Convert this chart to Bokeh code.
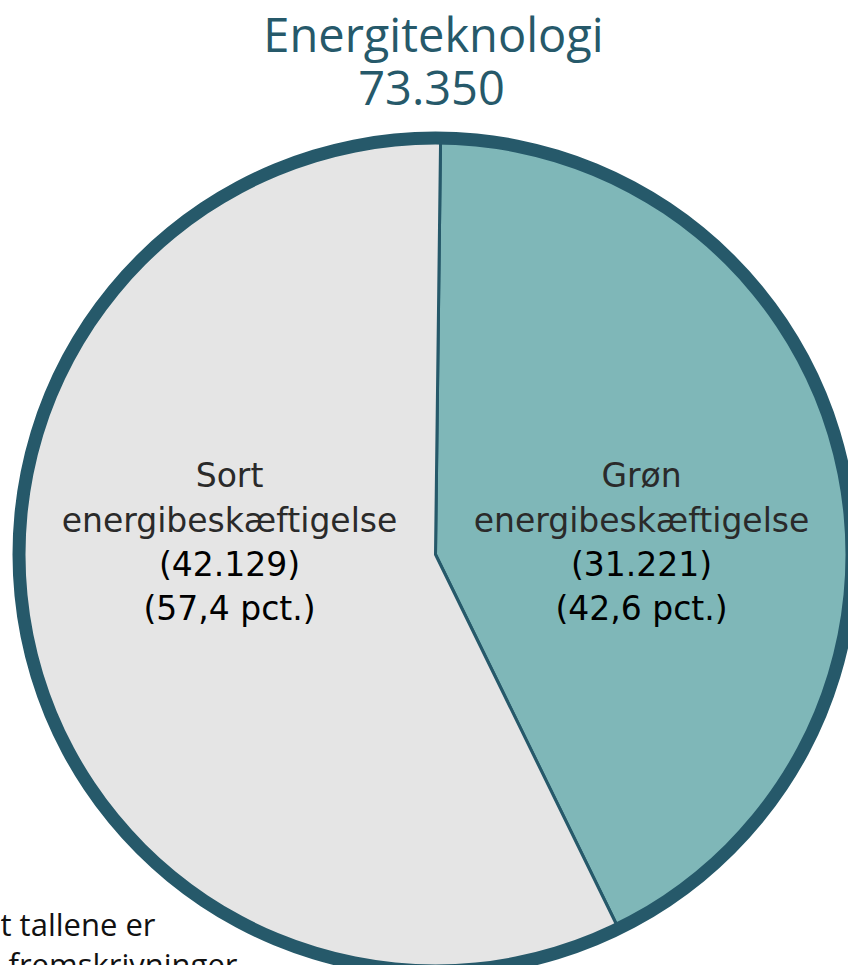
import math
from bokeh.plotting import figure
from bokeh.models import ColumnDataSource, Range1d
from bokeh.core.properties import value
from bokeh.embed import file_html
from bokeh.resources import INLINE

# ---- data ----
chart_title = "Energiteknologi"
category_names = ["Grøn", "Sort"]
category_sub = ["energibeskæftigelse", "energibeskæftigelse"]
employment = [31221, 42129]
slice_colors = ["#7fb7b8", "#e5e5e5"]
footnote_lines = ["t tallene er", "fremskrivninger"]

total = sum(employment)


def dk_int(v):
    return f"{v:,}".replace(",", ".")


def dk_pct(v):
    return f"{v:.1f}".replace(".", ",")


W, H = 848, 965
p = figure(width=W, height=H, x_range=Range1d(0, W), y_range=Range1d(0, H),
           output_backend="svg", toolbar_location=None, tools="",
           x_axis_type=None, y_axis_type=None, min_border=0)
p.grid.visible = False
p.outline_line_color = None
p.background_fill_color = "white"
p.border_fill_color = "white"

DARK = "#26596a"
cx, cy = 435, 411
r_in, r_out = 410, 423

# wedges, clockwise from (almost) top
start0 = math.pi / 2 - math.radians(0.7)
starts, ends = [], []
acc = 0.0
for v in employment:
    a0 = start0 - 2 * math.pi * acc / total
    acc += v
    a1 = start0 - 2 * math.pi * acc / total
    starts.append(a0)
    ends.append(a1)

src = ColumnDataSource(dict(x=[cx] * len(employment), y=[cy] * len(employment),
                            start=starts, end=ends, color=slice_colors))
p.wedge(x="x", y="y", radius=r_in + 3, start_angle="start", end_angle="end",
        direction="clock", fill_color="color", line_color=DARK, line_width=3,
        source=src)
p.annulus(x=[cx], y=[cy], inner_radius=r_in, outer_radius=r_out,
          fill_color=DARK, line_color=None)

# labels
label_x = [641, 229]
LFONT = "DejaVu Sans"
for i in range(len(employment)):
    lines1 = [category_names[i], category_sub[i]]
    lines2 = [f"({dk_int(employment[i])})",
              f"({dk_pct(employment[i] / total * 100)} pct.)"]
    p.text(x=[label_x[i]] * 2, y=[490, 445], text=lines1,
           text_font=value(LFONT), text_font_size="33px",
           text_color="#2a2a2a", text_align="center", text_baseline="alphabetic")
    p.text(x=[label_x[i]] * 2, y=[401, 357], text=lines2,
           text_font=value(LFONT), text_font_size="33px",
           text_color="#000000", text_align="center", text_baseline="alphabetic")

# title
p.text(x=[433, 431], y=[932, 878], text=[chart_title, dk_int(total)],
       text_font=value("Open Sans"), text_font_size="47px", text_color=DARK,
       text_align="center", text_baseline="alphabetic")

# footnote (partly cut at the left)
p.text(x=[155, 237], y=[42, 2], text=footnote_lines,
       text_font=value("Open Sans"), text_font_size="31px", text_color="#111111",
       text_align="right", text_baseline="alphabetic")

open("out.html", "w").write(file_html(p, INLINE))
